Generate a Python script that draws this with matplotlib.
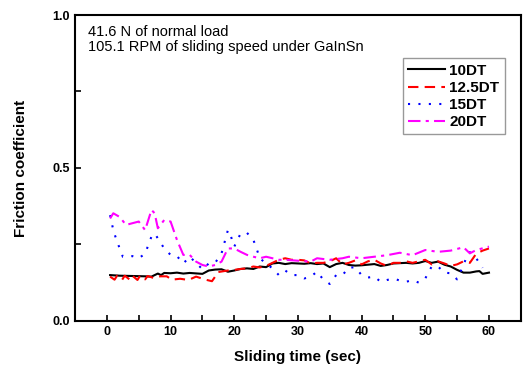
import numpy as np
import matplotlib
matplotlib.use('Agg')
import matplotlib.pyplot as plt
from matplotlib.ticker import MultipleLocator

plt.rcParams['font.family'] = ['Liberation Sans', 'DejaVu Sans']

# 10DT (solid black)
t_10 = [0.5, 2, 4, 6, 7, 8, 8.5, 9, 10, 11, 12, 13, 15, 16, 17, 18, 19, 20, 21, 22, 23, 24, 25, 26,
        27, 28, 29, 30, 31, 32, 33, 34, 35, 36, 37, 38, 39, 40, 41, 42, 43, 44, 45, 46, 47, 48,
        49, 50, 51, 52, 53, 54, 55, 56, 57, 58, 58.5, 59, 60]
f_10 = [0.150, 0.148, 0.147, 0.146, 0.145, 0.155, 0.150, 0.157, 0.156, 0.158, 0.155, 0.157, 0.154,
        0.165, 0.168, 0.169, 0.161, 0.165, 0.170, 0.172, 0.170, 0.178, 0.176, 0.188, 0.190, 0.186,
        0.189, 0.188, 0.187, 0.189, 0.186, 0.188, 0.176, 0.186, 0.190, 0.183, 0.181, 0.182, 0.184,
        0.186, 0.180, 0.183, 0.188, 0.189, 0.190, 0.188, 0.190, 0.196, 0.190, 0.194, 0.184, 0.178,
        0.167, 0.158, 0.158, 0.162, 0.163, 0.154, 0.158]

# 12.5DT (dashed red)
t_125 = [0.5, 1.2, 1.6, 2.4, 2.8, 3.6, 4.0, 4.8, 5.2, 6.0, 6.4, 7.4, 8.4, 9.4, 10.2, 11.5, 12.8,
         14, 15.5, 16.5, 17.5, 19, 20, 21, 22, 23, 24, 25, 26, 27, 28, 29, 30, 31, 32, 33, 34, 35,
         36, 37, 38, 39, 40, 41, 42, 43, 44, 45, 46, 47, 48, 49, 50, 51, 52, 53, 54, 55, 56, 57, 58, 59, 60]
f_125 = [0.145, 0.135, 0.148, 0.135, 0.148, 0.135, 0.148, 0.134, 0.148, 0.136, 0.147, 0.140, 0.146,
         0.146, 0.135, 0.138, 0.134, 0.145, 0.135, 0.130, 0.160, 0.165, 0.167, 0.170, 0.172, 0.178,
         0.175, 0.180, 0.190, 0.200, 0.205, 0.200, 0.200, 0.198, 0.188, 0.190, 0.190, 0.195, 0.205,
         0.185, 0.190, 0.198, 0.185, 0.195, 0.200, 0.188, 0.180, 0.190, 0.190, 0.195, 0.190, 0.195,
         0.200, 0.185, 0.195, 0.188, 0.180, 0.185, 0.195, 0.190, 0.220, 0.230, 0.237]

# 15DT (dotted blue)
t_15 = [0.5, 1, 1.5, 2.5, 4, 5, 6, 7, 7.5, 8, 9, 10, 11, 12, 13, 14, 15, 16, 17, 18, 19, 19.5, 20,
        21, 22, 23, 23.5, 24, 25, 26, 27, 28, 29, 30, 31, 32, 33, 34, 35, 36, 37, 38, 39, 40, 41, 42,
        43, 44, 45, 46, 47, 48, 49, 50, 51, 52, 53, 54, 55, 56, 56.5, 57, 58, 59]
f_15 = [0.346, 0.297, 0.265, 0.210, 0.212, 0.205, 0.220, 0.276, 0.286, 0.270, 0.237, 0.216, 0.212,
        0.188, 0.210, 0.190, 0.169, 0.188, 0.190, 0.221, 0.297, 0.275, 0.243, 0.286, 0.288, 0.265,
        0.237, 0.205, 0.188, 0.172, 0.150, 0.165, 0.150, 0.150, 0.139, 0.145, 0.161, 0.135, 0.121,
        0.150, 0.150, 0.175, 0.175, 0.150, 0.142, 0.145, 0.128, 0.134, 0.139, 0.132, 0.128, 0.134,
        0.125, 0.139, 0.178, 0.178, 0.158, 0.156, 0.136, 0.183, 0.210, 0.225, 0.205, 0.174]

# 20DT (dash-dot magenta)
t_20 = [0.5, 1, 2, 3, 5, 6, 7, 7.5, 8, 9, 10, 11, 12, 13, 14, 15, 16, 17, 18, 19, 20, 21, 22, 23,
        24, 25, 26, 27, 28, 30, 32, 33, 35, 37, 38, 40, 42, 44, 46, 48, 50, 52, 54, 56, 57, 58, 60]
f_20 = [0.335, 0.352, 0.340, 0.314, 0.325, 0.297, 0.363, 0.352, 0.303, 0.330, 0.325, 0.265, 0.216,
        0.216, 0.194, 0.183, 0.178, 0.183, 0.194, 0.237, 0.237, 0.226, 0.216, 0.210, 0.205, 0.210,
        0.205, 0.200, 0.200, 0.197, 0.194, 0.205, 0.200, 0.205, 0.210, 0.205, 0.210, 0.215, 0.223,
        0.215, 0.232, 0.226, 0.230, 0.241, 0.221, 0.232, 0.243]

fig = plt.figure(figsize=(5.25, 3.66), dpi=100)
ax = fig.add_axes([0.143, 0.123, 0.849, 0.836])

ax.plot(t_10, f_10, color='black', lw=1.5, ls='-', label='10DT')
ax.plot(t_125, f_125, color='#ff0000', lw=1.5, ls=(0, (5, 3)), label='12.5DT')
ax.plot(t_15, f_15, color='#0000ff', lw=1.5, ls=(0, (1, 4)), label='15DT')
ax.plot(t_20, f_20, color='#ff00ff', lw=1.5, ls=(0, (6, 2.5, 1.5, 2.5)), label='20DT')

ax.set_xlim(-5, 65)
ax.set_ylim(0, 1.0)
ax.xaxis.set_major_locator(MultipleLocator(10))
ax.xaxis.set_minor_locator(MultipleLocator(5))
ax.yaxis.set_major_locator(MultipleLocator(0.5))
ax.yaxis.set_minor_locator(MultipleLocator(0.25))
ax.set_xticks([0, 10, 20, 30, 40, 50, 60])
ax.tick_params(which='both', direction='in', top=False, right=False, width=1.2)
ax.tick_params(which='major', length=4, labelsize=9)
ax.tick_params(which='minor', length=4)
for lab in ax.get_xticklabels() + ax.get_yticklabels():
    lab.set_fontweight('bold')
for s in ax.spines.values():
    s.set_linewidth(1.5)

ax.set_xlabel('Sliding time (sec)', fontsize=11, fontweight='bold', labelpad=9)
ax.set_ylabel('Friction coefficient', fontsize=11, fontweight='bold', labelpad=18)

ax.text(0.029, 0.968, '41.6 N of normal load\n105.1 RPM of sliding speed under GaInSn',
        transform=ax.transAxes, ha='left', va='top', fontsize=10.5, linespacing=1.1)

leg = ax.legend(loc='upper right', bbox_to_anchor=(0.964, 0.858), fontsize=11,
                frameon=True, fancybox=False, edgecolor='gray', handlelength=2.4,
                handletextpad=0.3, borderpad=0.35, labelspacing=0.2, borderaxespad=0)
leg.get_frame().set_linewidth(1.0)
for txt in leg.get_texts():
    txt.set_fontweight('bold')

fig.savefig('out.png', dpi=100)
